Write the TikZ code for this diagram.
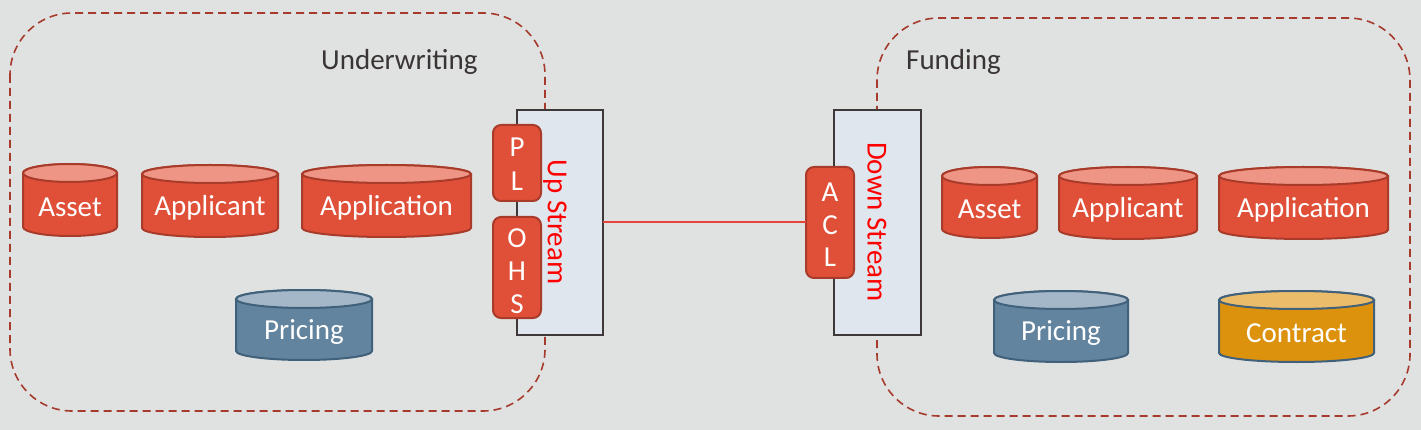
\documentclass[tikz,border=0pt]{standalone}
\usepackage{fontspec}
\setmainfont{Carlito}
\definecolor{bg}{HTML}{E0E2E1}
\definecolor{redfill}{HTML}{E04F38}
\definecolor{redtop}{HTML}{EE9585}
\definecolor{redborder}{HTML}{A93B2B}
\definecolor{bluefill}{HTML}{62849F}
\definecolor{bluetop}{HTML}{A3B7C9}
\definecolor{blueborder}{HTML}{41607A}
\definecolor{orangefill}{HTML}{DD920E}
\definecolor{orangetop}{HTML}{EBBD6A}
\definecolor{streamfill}{HTML}{DFE6ED}
\definecolor{streamborder}{HTML}{3E3838}
\definecolor{dashcol}{HTML}{A63A2D}
\definecolor{linkcol}{HTML}{E8453A}
\definecolor{headcol}{HTML}{3A3535}
\newcommand{\dbcyl}[7]{%
  \pgfmathsetmacro\rx{(#4-#2)/2}%
  \pgfmathsetmacro\cx{(#4+#2)/2}%
  \pgfmathsetmacro\ytop{#3+9}%
  \pgfmathsetmacro\ybot{#5-9}%
  \pgfmathsetmacro\ty{(#3+18+#5)/2-2}%
  \draw[#6 body] (#2,\ytop) -- (#2,\ybot) arc[start angle=180,end angle=360,x radius=\rx pt,y radius=9pt] -- (#4,\ytop) arc[start angle=0,end angle=180,x radius=\rx pt,y radius=9pt] -- cycle;
  \draw[#6 top] (\cx,\ytop) ellipse[x radius=\rx pt,y radius=9pt];
  \node[cyltext] (#1) at (\cx,\ty) {#7};
}
\tikzset{
  every node/.style={font=\fontsize{29}{33}\selectfont},
  red body/.style={fill=redfill,draw=redborder,line width=2pt},
  red top/.style={fill=redtop,draw=redborder,line width=2pt},
  blue body/.style={fill=bluefill,draw=blueborder,line width=2pt},
  blue top/.style={fill=bluetop,draw=blueborder,line width=2pt},
  orange body/.style={fill=orangefill,draw=blueborder,line width=2pt},
  orange top/.style={fill=orangetop,draw=blueborder,line width=2pt},
  cyltext/.style={text=white,inner sep=0pt},
  region/.style={draw=dashcol,line width=1.6pt,dash pattern=on 8pt off 5pt,rounded corners=62pt},
  streambox/.style={fill=streamfill,draw=streamborder,line width=2pt},
  portbox/.style={fill=redfill,draw=redborder,line width=2pt,rounded corners=8pt},
  portletter/.style={text=white,inner sep=0pt},
  streamtext/.style={text=red,rotate=-90,inner sep=0pt},
  heading/.style={text=headcol,inner sep=0pt,anchor=west},
  link/.style={draw=linkcol,line width=1.2pt}
}
\begin{document}
\begin{tikzpicture}[x=1pt,y=-1pt]
\useasboundingbox (0,0) rectangle (1421,430);
\fill[bg] (0,0) rectangle (1421,430);
% regions
\draw[region] (10,13) rectangle (545,411);
\draw[region] (877,18) rectangle (1410,416);
\node[heading] (uw) at (321,62) {Underwriting};
\node[heading] (fd) at (906,62) {Funding};
% upstream
\draw[streambox] (517,110) rectangle (603,335);
\node[streamtext] (ups) at (555,222) {Up Stream};
\coordinate (upr) at (603,222);
\draw[portbox] (493,125) rectangle (541,201);
\node[portletter] (p1) at (517,147) {P};
\node[portletter] (p2) at (517,181) {L};
\draw[portbox] (493,217) rectangle (541,318);
\node[portletter] (o1) at (517,238) {O};
\node[portletter] (o2) at (517,271) {H};
\node[portletter] (o3) at (517,304) {S};
% downstream
\draw[streambox] (834,110) rectangle (921,335);
\node[streamtext] (dns) at (877,222) {Down Stream};
\draw[portbox] (806,167) rectangle (854,278);
\coordinate (acll) at (806,222);
\node[portletter] (a1) at (830,192) {A};
\node[portletter] (a2) at (830,225) {C};
\node[portletter] (a3) at (830,257) {L};
\draw[link] (upr) -- (acll);
% left cylinders
\dbcyl{asset1}{23}{164}{117}{236}{red}{Asset}
\dbcyl{applicant1}{142}{165}{278}{237}{red}{Applicant}
\dbcyl{application1}{302}{165}{471}{237}{red}{Application}
\dbcyl{pricing1}{236}{290}{372}{360}{blue}{Pricing}
% right cylinders
\dbcyl{asset2}{942}{167}{1037}{238}{red}{Asset}
\dbcyl{applicant2}{1059}{167}{1197}{239}{red}{Applicant}
\dbcyl{application2}{1219}{167}{1388}{239}{red}{Application}
\dbcyl{pricing2}{994}{291}{1128}{362}{blue}{Pricing}
\dbcyl{contract2}{1219}{291}{1374}{362}{orange}{Contract}
\end{tikzpicture}
\end{document}
